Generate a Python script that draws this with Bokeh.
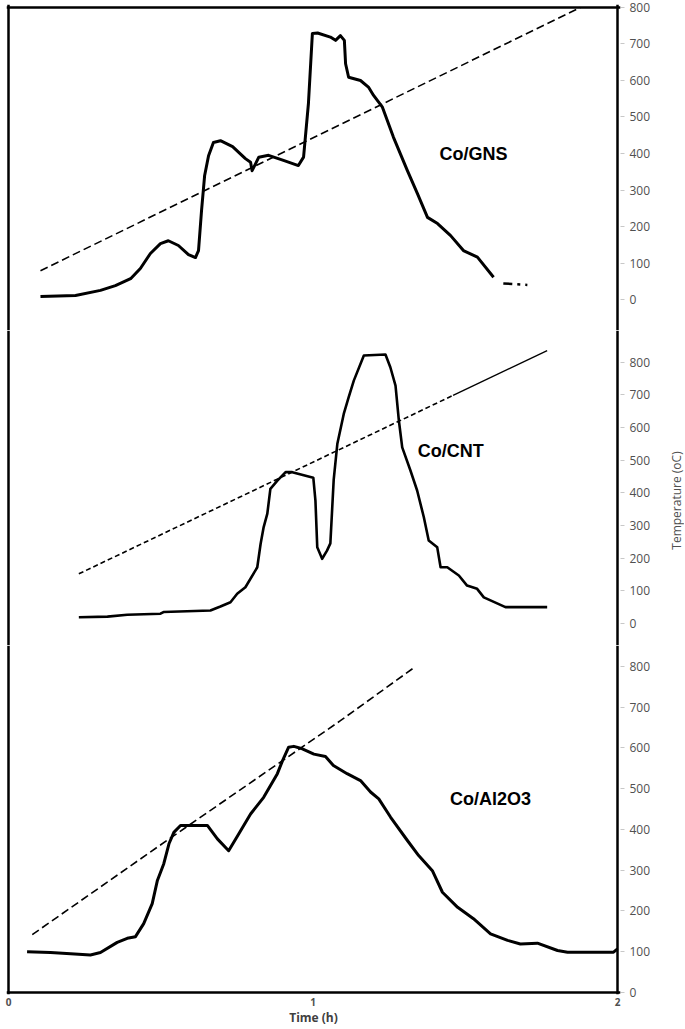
import math
from bokeh.plotting import figure
from bokeh.layouts import column, row
from bokeh.models import Range1d, FixedTicker, Span
from bokeh.core.properties import value
from bokeh.embed import file_html
from bokeh.resources import INLINE

# ---------------- data ----------------
temp_ticks = [0, 100, 200, 300, 400, 500, 600, 700, 800]
time_ticks = [0, 1, 2]
panel_names = ["Co/GNS", "Co/CNT", "Co/Al2O3"]
y_title = "Temperature (oC)"
x_title = "Time (h)"

gns_time = [0.105, 0.22, 0.302, 0.351, 0.401, 0.433, 0.466, 0.499, 0.525, 0.558, 0.591,
            0.614, 0.624, 0.634, 0.644, 0.657, 0.673, 0.696, 0.736, 0.778, 0.795, 0.80,
            0.822, 0.854, 0.903, 0.952, 0.969, 0.985, 0.998, 1.015, 1.057, 1.074, 1.09,
            1.103, 1.107, 1.117, 1.156, 1.182, 1.199, 1.228, 1.264, 1.31, 1.343, 1.376,
            1.409, 1.452, 1.494, 1.54, 1.593]
gns_temp = [8, 11, 25, 38, 57, 85, 126, 153, 161, 148, 123,
            115, 134, 244, 339, 394, 430, 435, 419, 386, 376, 353,
            390, 395, 381, 367, 390, 537, 729, 730, 719, 710, 723,
            710, 646, 609, 600, 582, 559, 527, 445, 353, 290, 225,
            208, 175, 134, 116, 61]
gns_tail_time = [1.625, 1.704]
gns_tail_temp = [44, 40]
gns_ramp_time = [0.105, 1.878]
gns_ramp_temp = [79, 800]

cnt_time = [0.231, 0.325, 0.39, 0.499, 0.509, 0.663, 0.696, 0.729, 0.751, 0.778, 0.817,
            0.828, 0.838, 0.85, 0.86, 0.883, 0.91, 0.932, 1.001, 1.008, 1.014, 1.03,
            1.046, 1.057, 1.068, 1.08, 1.101, 1.117, 1.134, 1.167, 1.238, 1.254, 1.271,
            1.282, 1.293, 1.32, 1.342, 1.364, 1.38, 1.408, 1.419, 1.441, 1.479, 1.506,
            1.539, 1.561, 1.632, 1.769]
cnt_temp = [19, 21, 27, 30, 35, 40, 52, 65, 91, 111, 172,
            244, 295, 336, 412, 437, 463, 463, 446, 376, 233, 198,
            223, 245, 440, 550, 641, 692, 743, 820, 823, 784, 728,
            621, 539, 468, 407, 325, 254, 233, 172, 172, 147, 116,
            106, 80, 50, 50]
cnt_ramp_time = [0.231, 1.46]
cnt_ramp_temp = [152, 698]
cnt_ramp2_time = [1.46, 1.769]
cnt_ramp2_temp = [698, 835]

al_time = [0.061, 0.138, 0.204, 0.269, 0.302, 0.357, 0.39, 0.417, 0.444, 0.472, 0.489,
           0.51, 0.527, 0.543, 0.565, 0.653, 0.686, 0.723, 0.756, 0.795, 0.838, 0.883,
           0.9, 0.92, 0.937, 0.965, 1.003, 1.041, 1.067, 1.112, 1.156, 1.189, 1.216,
           1.255, 1.31, 1.347, 1.392, 1.425, 1.475, 1.527, 1.583, 1.639, 1.681, 1.737,
           1.803, 1.836, 1.987, 2.0]
al_temp = [100, 98, 95, 92, 98, 123, 133, 137, 169, 218, 275,
           316, 365, 393, 410, 410, 377, 348, 389, 438, 479, 537,
           569, 602, 604, 598, 585, 579, 557, 537, 520, 492, 475,
           430, 373, 336, 299, 246, 209, 181, 144, 128, 119, 121,
           103, 99, 99, 107]
al_ramp_time = [0.078, 0.52, 1.09, 1.337]
al_ramp_temp = [142, 373, 667, 800]

# ---------------- layout helpers ----------------
PX_PER_H = 304.5
FRAME_W = 614
X_START = -2 / PX_PER_H
X_END = X_START + FRAME_W / PX_PER_H
TICK_GREY = "#505050"


def make_panel(y_start, y_end, frame_h, top_border, bottom_axis):
    p = figure(
        output_backend="svg", toolbar_location=None,
        frame_width=FRAME_W, frame_height=frame_h,
        x_range=Range1d(X_START, X_END), y_range=Range1d(y_start, y_end),
        y_axis_location="right",
        x_axis_location="below" if bottom_axis else None,
        min_border=0, min_border_left=6, min_border_right=48,
        min_border_top=top_border, min_border_bottom=0,
        background_fill_color="white", border_fill_color="white",
    )
    p.outline_line_color = None
    p.xgrid.visible = False
    p.ygrid.visible = False
    ax = p.yaxis[0]
    ax.ticker = FixedTicker(ticks=temp_ticks)
    ax.axis_line_color = None
    ax.major_tick_line_color = "#c8c8c8"
    ax.major_tick_out = 4
    ax.major_tick_in = 0
    ax.minor_tick_line_color = None
    ax.major_label_standoff = 5
    ax.major_label_text_font = "Open Sans"
    ax.major_label_text_font_size = "12px"
    ax.major_label_text_color = TICK_GREY
    if bottom_axis:
        xa = p.xaxis[0]
        xa.ticker = FixedTicker(ticks=time_ticks)
        xa.axis_line_color = None
        xa.major_tick_line_color = None
        xa.minor_tick_line_color = None
        xa.major_tick_out = 0
        xa.major_label_standoff = 3
        xa.major_label_text_font = "Open Sans"
        xa.major_label_text_font_style = "bold"
        xa.major_label_text_font_size = "10px"
        xa.major_label_text_color = TICK_GREY
        xa.axis_label = x_title
        xa.axis_label_standoff = 0
        xa.axis_label_text_font = "Open Sans"
        xa.axis_label_text_font_style = "bold"
        xa.axis_label_text_font_size = "12px"
        xa.axis_label_text_color = "#404040"
    for xv in (0, 2):
        p.add_layout(Span(location=xv, dimension="height", line_color="black", line_width=2.5))
    return p


def add_name(p, x, y, txt):
    p.text(x=[x], y=[y], text=[txt], text_font=value("Liberation Sans"),
           text_font_style="bold", text_font_size="18px", text_color="black",
           text_align="center", text_baseline="middle")


# Panel 1: GNS  (0 at y=299, 800 at y=7)
p1 = make_panel(-84.9, 808.2, 326, 4, False)
p1.add_layout(Span(location=800, dimension="width", line_color="black", line_width=2.5))
p1.line(gns_ramp_time, gns_ramp_temp, line_color="black", line_width=1.6, line_dash="8 4")
p1.line(gns_time, gns_temp, line_color="black", line_width=3, line_join="round")
p1.line(gns_tail_time, gns_tail_temp, line_color="black", line_width=2.5, line_dash="9 5 3 5")
add_name(p1, 1.527, 400, panel_names[0])

# Panel 2: CNT
p2 = make_panel(-67.3, 896.4, 315, 0, False)
p2.line(cnt_ramp_time, cnt_ramp_temp, line_color="black", line_width=1.6, line_dash="5 3")
p2.line(cnt_ramp2_time, cnt_ramp2_temp, line_color="black", line_width=1.4)
p2.line(cnt_time, cnt_temp, line_color="black", line_width=2.6, line_join="round")
add_name(p2, 1.452, 529, panel_names[1])

# Panel 3: Al2O3
p3 = make_panel(-4.9, 851.5, 349, 0, True)
p3.add_layout(Span(location=0, dimension="width", line_color="black", line_width=2.5))
p3.line(al_ramp_time, al_ramp_temp, line_color="black", line_width=1.6, line_dash="8 4")
p3.line(al_time, al_temp, line_color="black", line_width=3, line_join="round")
add_name(p3, 1.583, 476, panel_names[2])

# narrow strip carrying the shared y-axis title (reads bottom to top)
TOTAL_H = 1024
p_lab = figure(output_backend="svg", toolbar_location=None,
               frame_width=16, frame_height=TOTAL_H,
               x_range=Range1d(0, 1), y_range=Range1d(TOTAL_H, 0),
               x_axis_location=None, y_axis_location=None, min_border=0,
               background_fill_color="white", border_fill_color="white")
p_lab.outline_line_color = None
p_lab.xgrid.visible = False
p_lab.ygrid.visible = False
p_lab.text(x=[0.5], y=[500], text=[y_title], angle=math.pi / 2,
           text_font=value("Open Sans"), text_font_size="12px", text_color=TICK_GREY,
           text_align="center", text_baseline="middle")

layout = row(column(p1, p2, p3, spacing=0), p_lab, spacing=0)
open("out.html", "w").write(file_html(layout, INLINE))
